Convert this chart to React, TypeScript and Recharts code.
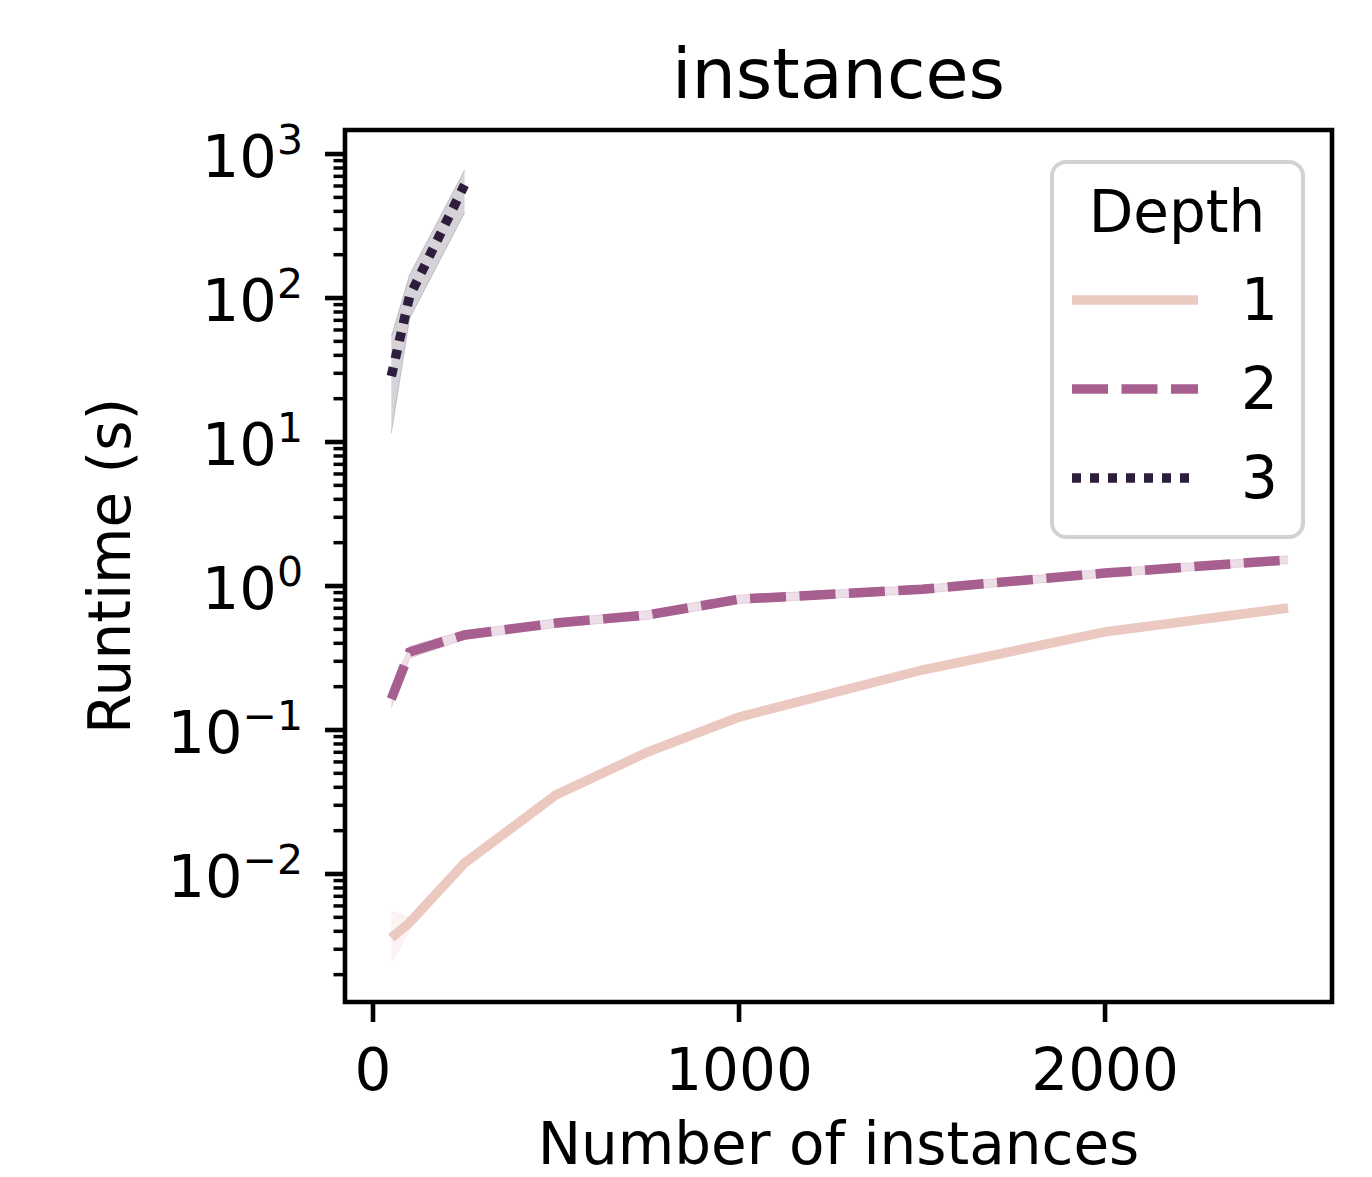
import React from "react";
import {
  ComposedChart,
  Line,
  Area,
  XAxis,
  YAxis,
  Legend,
  ReferenceArea,
} from "recharts";

// values (runtime in seconds)
const instances = [50, 100, 250, 500, 750, 1000, 1500, 2000, 2500];

const depth1Mean = [0.0036, 0.0046, 0.0119, 0.0354, 0.0703, 0.123, 0.261, 0.48, 0.703];
const depth1Low = [0.0024, 0.0041, 0.0113, 0.034, 0.0676, 0.118, 0.251, 0.462, 0.678];
const depth1High = [0.0055, 0.005, 0.0125, 0.0368, 0.073, 0.128, 0.271, 0.498, 0.728];

const depth2Mean = [0.164, 0.348, 0.457, 0.553, 0.63, 0.81, 0.95, 1.23, 1.52];
const depth2Low = [0.142, 0.315, 0.425, 0.515, 0.586, 0.755, 0.89, 1.15, 1.43];
const depth2High = [0.19, 0.382, 0.49, 0.592, 0.674, 0.865, 1.01, 1.31, 1.62];

const depth3Mean = [28.7, 103, 610];
const depth3Low = [11.5, 72, 390];
const depth3High = [54, 145, 774];

const xTicks = [0, 1000, 2000];
const yMajorExp = [-3, -2, -1, 0, 1, 2, 3];
const yMinorMult = [2, 3, 4, 5, 6, 7, 8, 9];

const xDomain = [-76.5, 2620];
const yDomain = [Math.pow(10, -2.889), Math.pow(10, 3.167)];

const W = 1372;
const H = 1177;
const Y_AXIS_W = 200;
const X_AXIS_H = 170;
const margin = { top: 130, right: 40, bottom: 175 - X_AXIS_H, left: 345 - Y_AXIS_W };
const font = "DejaVu Sans, sans-serif";
const LW = 9.5;

const series = [
  { key: "d1", name: "1", color: "#ebc8c0", dash: undefined },
  { key: "d2", name: "2", color: "#a65f8e", dash: "36 13.5" },
  { key: "d3", name: "3", color: "#2d1e3e", dash: "9 9" },
];

const rows = instances.map((n, i) => ({
  n,
  d1: depth1Mean[i],
  d1Band: [depth1Low[i], depth1High[i]],
  d2: depth2Mean[i],
  d2Band: [depth2Low[i], depth2High[i]],
  d3: i < depth3Mean.length ? depth3Mean[i] : null,
  d3Band: i < depth3Mean.length ? [depth3Low[i], depth3High[i]] : null,
}));

const yTicks: number[] = [];
yMajorExp.forEach((e) => {
  const base = Math.pow(10, e);
  [1, ...yMinorMult].forEach((m) => {
    const v = m * base;
    if (v >= yDomain[0] && v <= yDomain[1]) yTicks.push(v);
  });
});

function YTick(props: any) {
  const { x, y, payload } = props;
  const v = payload.value;
  const e = Math.round(Math.log10(v));
  const major = Math.abs(v - Math.pow(10, e)) < v * 1e-6;
  return (
    <g>
      <line
        x1={x}
        x2={x - (major ? 20 : 11.5)}
        y1={y}
        y2={y}
        stroke="#000"
        strokeWidth={major ? 4.6 : 3.5}
      />
      {major && (
        <text x={x - 42} y={y + 23} textAnchor="end" fontFamily={font} fill="#000">
          <tspan fontSize={59}>10</tspan>
          <tspan fontSize={41} dy={-23}>{e < 0 ? "\u2212" + Math.abs(e) : String(e)}</tspan>
        </text>
      )}
    </g>
  );
}

function XTick(props: any) {
  const { x, y, payload } = props;
  return (
    <g>
      <line x1={x} x2={x} y1={y} y2={y + 20} stroke="#000" strokeWidth={4.6} />
      <text x={x} y={y + 88} textAnchor="middle" fontFamily={font} fontSize={58} fill="#000">
        {payload.value}
      </text>
    </g>
  );
}

function DepthLegend() {
  return (
    <svg width={255} height={380} style={{ display: "block" }}>
      <rect
        x={2}
        y={2}
        width={251}
        height={375}
        rx={14}
        fill="#fff"
        fillOpacity={0.8}
        stroke="#d2d2d2"
        strokeWidth={4}
      />
      <text x={127} y={72} textAnchor="middle" fontFamily={font} fontSize={58} fill="#000">
        Depth
      </text>
      {series.map((s, i) => (
        <g key={s.key}>
          <line
            x1={22}
            x2={148}
            y1={140 + i * 89}
            y2={140 + i * 89}
            stroke={s.color}
            strokeWidth={LW}
            strokeDasharray={s.dash}
          />
          <text x={191} y={160 + i * 89} fontFamily={font} fontSize={58} fill="#000">
            {s.name}
          </text>
        </g>
      ))}
    </svg>
  );
}

export default function App() {
  const plotLeft = margin.left + Y_AXIS_W;
  const plotW = W - plotLeft - margin.right;
  return (
    <div style={{ position: "absolute", left: 0, top: 0, width: W, height: H, background: "#fff" }}>
      <ComposedChart width={W} height={H} data={rows} margin={margin}>
        <XAxis
          type="number"
          dataKey="n"
          domain={xDomain}
          ticks={xTicks}
          allowDataOverflow
          height={X_AXIS_H}
          tickSize={0}
          tickMargin={0}
          axisLine={false}
          tick={<XTick />}
          interval={0}
          label={{
            content: (p: any) => (
              <text
                x={p.viewBox.x + p.viewBox.width / 2}
                y={p.viewBox.y + 162}
                textAnchor="middle"
                fontFamily={font}
                fontSize={58}
                fill="#000"
              >
                Number of instances
              </text>
            ),
          }}
        />
        <YAxis
          scale="log"
          type="number"
          domain={yDomain}
          ticks={yTicks}
          allowDataOverflow
          width={Y_AXIS_W}
          tickSize={0}
          tickMargin={0}
          axisLine={false}
          tick={<YTick />}
          interval={0}
          label={{
            content: (p: any) => {
              const cx = p.viewBox.x + p.viewBox.width - 215;
              const cy = p.viewBox.y + p.viewBox.height / 2;
              return (
                <text
                  x={cx}
                  y={cy}
                  transform={`rotate(-90, ${cx}, ${cy})`}
                  textAnchor="middle"
                  fontFamily={font}
                  fontSize={58}
                  fill="#000"
                >
                  Runtime (s)
                </text>
              );
            },
          }}
        />
        {series.map((s) => (
          <Area
            key={s.key + "Band"}
            type="linear"
            dataKey={s.key + "Band"}
            stroke={s.color}
            strokeOpacity={0.2}
            strokeWidth={1}
            fill={s.color}
            fillOpacity={0.2}
            isAnimationActive={false}
            legendType="none"
            dot={false}
            activeDot={false}
          />
        ))}
        {series.map((s) => (
          <Line
            key={s.key}
            type="linear"
            dataKey={s.key}
            name={s.name}
            stroke={s.color}
            strokeWidth={LW}
            strokeDasharray={s.dash}
            strokeLinecap="butt"
            dot={false}
            activeDot={false}
            isAnimationActive={false}
          />
        ))}
        <ReferenceArea
          x1={xDomain[0]}
          x2={xDomain[1]}
          y1={yDomain[0]}
          y2={yDomain[1]}
          fill="none"
          stroke="#000"
          strokeWidth={4.6}
          ifOverflow="visible"
        />
        <Legend
          layout="vertical"
          align="center"
          verticalAlign="middle"
          content={() => <DepthLegend />}
          wrapperStyle={{ position: "absolute", left: 1050, top: 160, width: 255, height: 380 }}
        />
        <text
          x={plotLeft + plotW / 2}
          y={98}
          textAnchor="middle"
          fontFamily={font}
          fontSize={70}
          fill="#000"
        >
          instances
        </text>
      </ComposedChart>
    </div>
  );
}
